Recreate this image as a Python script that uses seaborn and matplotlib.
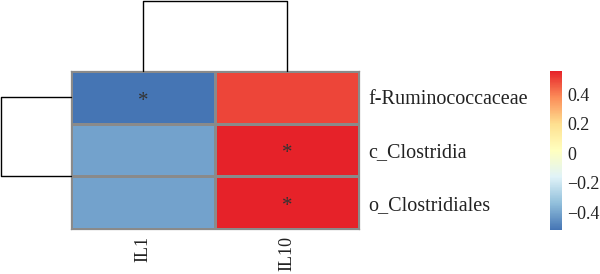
import numpy as np
import pandas as pd
import matplotlib
matplotlib.use("Agg")
import matplotlib.pyplot as plt
import seaborn as sns
from matplotlib.colors import LinearSegmentedColormap

# ---- data ----
rows = ["f-Ruminococcaceae", "c_Clostridia", "o_Clostridiales"]
cols = ["IL1", "IL10"]
il1 = [-0.52, -0.41, -0.41]
il10 = [0.50, 0.56, 0.56]
stars_il1 = ["*", "", ""]
stars_il10 = ["", "*", "*"]
cbar_ticks = [-0.4, -0.2, 0, 0.2, 0.4]
cbar_labels = ["\u22120.4", "\u22120.2", "0", "0.2", "0.4"]

df = pd.DataFrame({"IL1": il1, "IL10": il10}, index=rows)[cols]
annot = pd.DataFrame({"IL1": stars_il1, "IL10": stars_il10}, index=rows)[cols]

palette = ["#4575B4", "#91BFDB", "#E0F3F8", "#FFFFBF", "#FEE090", "#FC8D59", "#E62229"]
cmap = LinearSegmentedColormap.from_list("ph", palette, N=256)

sns.set_theme(style="white")
plt.rcParams["font.family"] = ["Liberation Serif", "DejaVu Serif"]

W, H = 600, 274
fig = plt.figure(figsize=(W / 100, H / 100), dpi=100)

def fax(x0, y0, x1, y1):
    return fig.add_axes([x0 / W, 1 - y1 / H, (x1 - x0) / W, (y1 - y0) / H])

ax = fax(71, 71, 359, 229)
cax = fax(550, 71, 562, 230)
ax_top = fax(71, 0.5, 359, 71)
ax_left = fax(0.5, 71, 71, 229)

vmin, vmax = float(np.min(df.values)), float(np.max(df.values))
sns.heatmap(df, ax=ax, cmap=cmap, vmin=vmin, vmax=vmax, cbar_ax=cax,
            linewidths=0.75, linecolor="#8A8A8A",
            annot=annot, fmt="", annot_kws={"color": "#333333", "fontsize": 15})

for t in ax.texts:
    x, y = t.get_position()
    t.set_position((x, y + 0.07))

for s in ax.spines.values():
    s.set_visible(True)
    s.set_color("#8A8A8A")
    s.set_linewidth(0.9)

ax.yaxis.tick_right()
ax.set_yticklabels(rows, rotation=0, fontsize=14.5, color="#222222")
ax.set_xticklabels(cols, rotation=90, fontsize=13, color="#222222")
ax.tick_params(axis="y", length=0, pad=7)
ax.tick_params(axis="x", length=0, pad=5)
ax.set_xlabel("")
ax.set_ylabel("")

cb = ax.collections[0].colorbar
cb.outline.set_visible(False)
cb.set_ticks(cbar_ticks)
cb.set_ticklabels(cbar_labels)
cax.tick_params(length=0, labelsize=13, pad=4, colors="#222222")

# ---- dendrograms (derived from data) ----
vals = df.values
d_rows_co = np.linalg.norm(vals[1] - vals[2])
d_rows_f = max(np.linalg.norm(vals[0] - vals[1]), np.linalg.norm(vals[0] - vals[2]))
d_cols = np.linalg.norm(vals[:, 0] - vals[:, 1])

# column dendrogram
ax_top.set_xlim(0, len(cols))
ax_top.set_ylim(0, d_cols)
ax_top.plot([0.5, 0.5, 1.5, 1.5], [0, d_cols, d_cols, 0], color="black", lw=1, clip_on=False)
ax_top.axis("off")

# row dendrogram
ax_left.set_ylim(len(rows), 0)
ax_left.set_xlim(d_rows_f, 0)
if d_rows_co > 0:
    ax_left.plot([0, d_rows_co, d_rows_co, 0], [1.5, 1.5, 2.5, 2.5], color="black", lw=1, clip_on=False)
mid_co = 2.0
ax_left.plot([0, d_rows_f, d_rows_f, d_rows_co], [0.5, 0.5, mid_co, mid_co], color="black", lw=1, clip_on=False)
ax_left.axis("off")

fig.savefig("out.png", dpi=100)
